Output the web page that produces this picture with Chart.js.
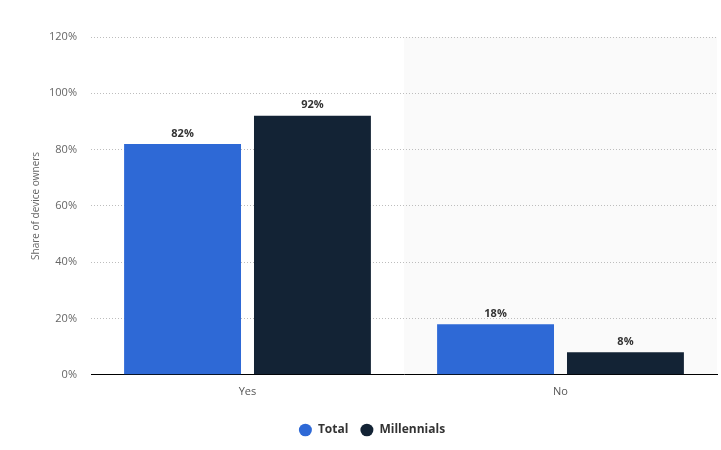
<!DOCTYPE html>
<html>
<head>
<meta charset="utf-8">
<script src="https://cdn.jsdelivr.net/npm/chart.js@4"></script>
<style>
  html, body { margin: 0; padding: 0; background: #fff; }
  #wrap { width: 721px; height: 450px; position: relative; }
</style>
</head>
<body>
<div id="wrap"><canvas id="chart"></canvas></div>
<script>
// --- Data ---
const categories = ['Yes', 'No'];
const totalValues = [82, 18];
const millennialValues = [92, 8];
const yTicks = [0, 20, 40, 60, 80, 100, 120];

const FONT = "'Open Sans', sans-serif";

// shaded band behind the second category
const bandPlugin = {
    id: 'band',
    beforeDraw(chart) {
        const { ctx, chartArea, scales } = chart;
        const x = scales.x;
        const half = (x.getPixelForValue(1) - x.getPixelForValue(0)) / 2;
        const left = x.getPixelForValue(1) - half;
        ctx.save();
        ctx.fillStyle = '#fafafa';
        ctx.fillRect(left, chartArea.top, chartArea.right - left, chartArea.bottom - chartArea.top);
        ctx.restore();
    }
};

// value labels above bars
const labelPlugin = {
    id: 'barLabels',
    afterDatasetsDraw(chart) {
        const { ctx } = chart;
        ctx.save();
        ctx.font = 'bold 11px ' + FONT;
        ctx.fillStyle = '#333';
        ctx.textAlign = 'center';
        ctx.textBaseline = 'bottom';
        chart.data.datasets.forEach((ds, i) => {
            chart.getDatasetMeta(i).data.forEach((bar, j) => {
                ctx.fillText(ds.data[j] + '%', bar.x, bar.y - 5);
            });
        });
        ctx.restore();
    }
};

new Chart(document.getElementById('chart'), {
    type: 'bar',
    data: {
        labels: categories,
        datasets: [
            { label: 'Total', data: totalValues, backgroundColor: '#2e69d6', categoryPercentage: 0.83, barPercentage: 0.9 },
            { label: 'Millennials', data: millennialValues, backgroundColor: '#132335', categoryPercentage: 0.83, barPercentage: 0.9 }
        ]
    },
    options: {
        responsive: true,
        maintainAspectRatio: false,
        animation: false,
        layout: { padding: { top: 37, right: 4, left: 27, bottom: 4 } },
        plugins: {
            legend: {
                position: 'bottom',
                labels: {
                    usePointStyle: true,
                    pointStyle: 'circle',
                    boxHeight: 9,
                    pointStyleWidth: 13,
                    padding: 12,
                    color: '#333',
                    font: { family: FONT, size: 12, weight: 'bold' }
                }
            },
            tooltip: { enabled: false }
        },
        scales: {
            x: {
                afterFit(axis) { axis.height += 4; },
                grid: { display: false, drawTicks: false },
                border: { color: '#000', width: 1 },
                ticks: { color: '#555', padding: 10, font: { family: FONT, size: 11 } }
            },
            y: {
                min: 0,
                max: 120,
                afterBuildTicks(axis) { axis.ticks = yTicks.map(v => ({ value: v })); },
                afterFit(axis) { axis.width = 64; },
                grid: { color: '#bdbdbd', drawTicks: false, lineWidth: 1 },
                border: { display: false, dash: [1, 2] },
                ticks: {
                    color: '#666',
                    padding: 14,
                    font: { family: FONT, size: 11 },
                    callback: v => v + '%'
                },
                title: {
                    display: true,
                    text: 'Share of device owners',
                    color: '#666',
                    font: { family: FONT, size: 10 },
                    padding: { top: 3, bottom: 0 }
                }
            }
        }
    },
    plugins: [bandPlugin, labelPlugin]
});
</script>
</body>
</html>
